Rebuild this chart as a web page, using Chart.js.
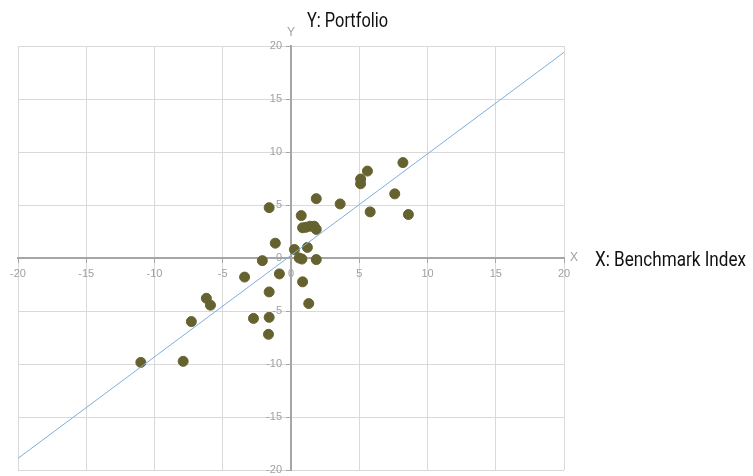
<!DOCTYPE html>
<html lang="en">
<head>
  <meta charset="UTF-8">
  <title>Portfolio vs Benchmark</title>
  <script src="https://cdn.jsdelivr.net/npm/chart.js"></script>
  <style>
    body { margin: 0; background: #fff; }
    #wrap { width: 753px; height: 476px; position: relative; }
  </style>
</head>
<body>
  <div id="wrap">
    <canvas id="scatterChart"></canvas>
  </div>
  <script>
    // benchmark returns (x) and portfolio returns (y)
    const benchX = [-11.0, -7.9, -7.3, -6.2, -5.9, -3.4, -2.75, -2.1, -1.6, -1.15, -1.6, -1.6,
      -1.65, -0.85, 0.25, 0.6, 0.8, 0.75, 0.85, 1.3, 1.2, 0.85, 1.1, 1.4, 1.7, 1.85, 1.85, 1.85,
      3.6, 5.1, 5.1, 5.6, 5.8, 7.6, 8.2, 8.6];
    const portY = [-9.85, -9.75, -6.0, -3.8, -4.45, -1.8, -5.7, -0.25, 4.75, 1.4, -3.2, -5.6,
      -7.2, -1.5, 0.8, 0.0, -0.1, 4.0, -2.25, -4.3, 1.0, 2.85, 2.9, 3.0, 3.0, 2.7, 5.6, -0.15,
      5.1, 7.45, 7.0, 8.2, 4.35, 6.05, 9.0, 4.1];
    // fitted line end points
    const fitX = [-20, 20];
    const fitY = [-18.9, 19.4];
    const axisTicks = [-20, -15, -10, -5, 0, 5, 10, 15, 20];
    const xTitle = 'X: Benchmark Index';
    const yTitle = 'Y: Portfolio';

    const points = benchX.map((x, i) => ({ x: x, y: portY[i] }));
    const fitLine = fitX.map((x, i) => ({ x: x, y: fitY[i] }));

    // condensed-looking title: squeeze the text to a given width
    const drawSqueezed = (ctx, text, x, y, width) => {
      const w = ctx.measureText(text).width;
      ctx.save();
      ctx.translate(x, y);
      ctx.scale(width / w, 1);
      ctx.fillText(text, 0, 0);
      ctx.restore();
    };

    // y tick labels (left of the centred axis), axis letters and titles
    const labelsPlugin = {
      id: 'axisLabels',
      afterDraw(chart) {
        const ctx = chart.ctx;
        const xs = chart.scales.x;
        const ys = chart.scales.y;
        const x0 = xs.getPixelForValue(0);
        const y0 = ys.getPixelForValue(0);
        ctx.save();
        ctx.fillStyle = '#a0a0a0';
        ctx.font = '11px "Liberation Sans", Arial, sans-serif';
        ctx.textBaseline = 'middle';
        ctx.textAlign = 'right';
        ys.ticks.forEach(t => {
          ctx.fillText(String(t.value), x0 - 9, ys.getPixelForValue(t.value));
        });
        ctx.font = '12px "Liberation Sans", Arial, sans-serif';
        ctx.textAlign = 'left';
        ctx.fillText('X', xs.right + 6, y0);
        ctx.textAlign = 'center';
        ctx.fillText('Y', x0, ys.top - 13);
        ctx.fillStyle = '#111';
        ctx.font = '21px Roboto, "Liberation Sans", sans-serif';
        ctx.textAlign = 'left';
        ctx.textBaseline = 'alphabetic';
        drawSqueezed(ctx, yTitle, 307, 27, 81);
        drawSqueezed(ctx, xTitle, 595, y0 + 8, 151);
        ctx.restore();
      }
    };

    const ctx = document.getElementById('scatterChart').getContext('2d');
    new Chart(ctx, {
      type: 'scatter',
      data: {
        datasets: [{
          label: 'Fit',
          type: 'line',
          data: fitLine,
          borderColor: '#7eaee0',
          borderWidth: 1,
          pointRadius: 0,
          fill: false
        }, {
          label: 'Returns',
          data: points,
          backgroundColor: '#66622f',
          borderColor: '#66622f',
          borderWidth: 1,
          pointRadius: 5,
          pointHoverRadius: 5
        }]
      },
      options: {
        responsive: true,
        maintainAspectRatio: false,
        animation: false,
        layout: { padding: { left: 18, top: 46, right: 189, bottom: 2 } },
        plugins: {
          legend: { display: false },
          tooltip: { enabled: false }
        },
        scales: {
          x: {
            type: 'linear',
            position: { y: 0 },
            min: -20,
            max: 20,
            afterBuildTicks: axis => { axis.ticks = axisTicks.map(v => ({ value: v })); },
            grid: { color: '#d9d9d9', tickColor: '#a6a6a6', tickLength: 4 },
            border: { color: '#a6a6a6', width: 2 },
            ticks: {
              color: '#a0a0a0',
              font: { family: '"Liberation Sans", Arial, sans-serif', size: 11 },
              padding: 5,
              maxRotation: 0
            }
          },
          y: {
            type: 'linear',
            position: { x: 0 },
            min: -20,
            max: 20,
            afterBuildTicks: axis => { axis.ticks = axisTicks.map(v => ({ value: v })); },
            grid: { color: '#d9d9d9', tickColor: '#a6a6a6', tickLength: 4 },
            border: { color: '#a6a6a6', width: 2 },
            ticks: { display: false }
          }
        }
      },
      plugins: [labelsPlugin]
    });
  </script>
</body>
</html>
